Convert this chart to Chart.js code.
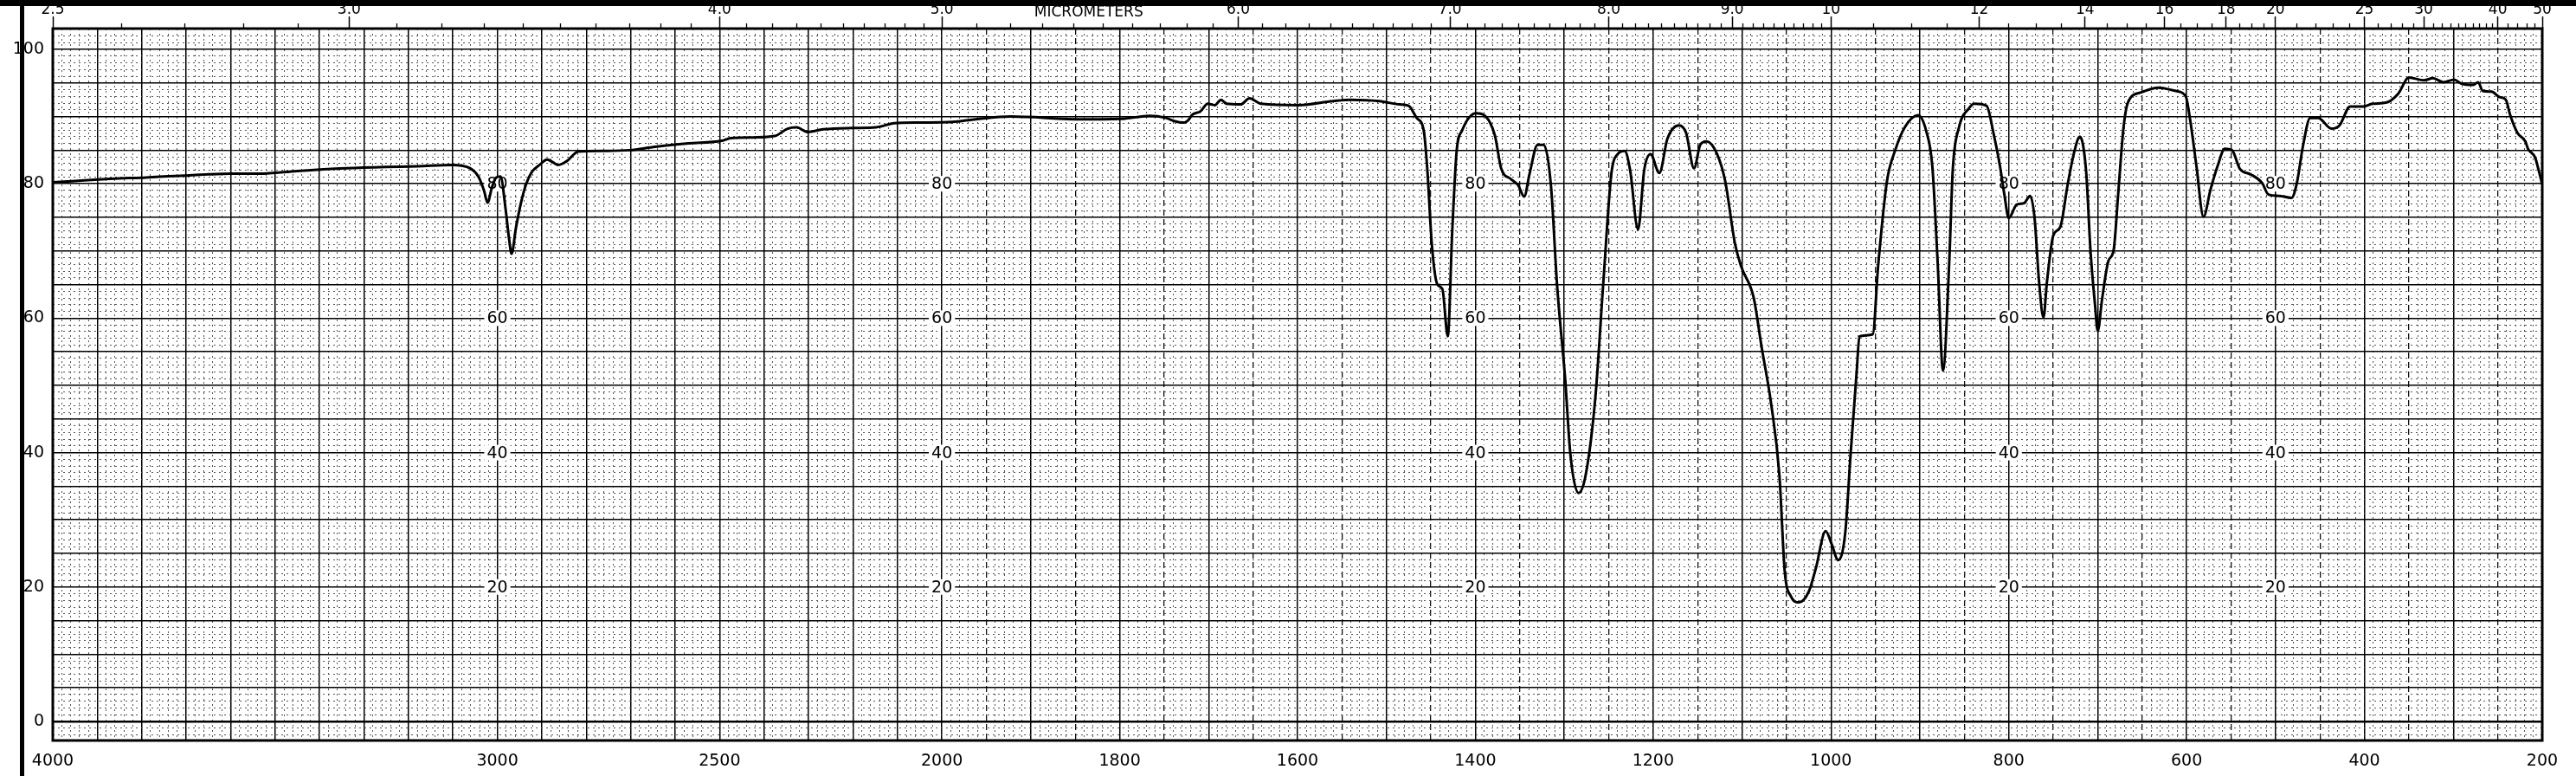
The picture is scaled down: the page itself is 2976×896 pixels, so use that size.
<!DOCTYPE html>
<html><head><meta charset="utf-8">
<script src="https://cdn.jsdelivr.net/npm/chart.js@4.4.1/dist/chart.umd.min.js"></script>
<style>html,body{margin:0;padding:0;background:#fff;overflow:hidden}canvas{display:block}</style>
</head><body>
<canvas id="c" width="2976" height="896"></canvas>
<script>
// ---- data (wavenumber cm-1, % transmittance) ----
const wavenumbers = [4000,3950,3905,3850,3801,3750,3704,3650,3599,3535,3450,3340,3250,3180,3102,3061,3042,3030,3022,3012,3003,2993,2981,2974,2968,2958,2946,2935,2923,2905,2888,2875,2863,2843,2818,2760,2703,2645,2570,2495,2475,2420,2376,2347,2327,2302,2267,2200,2148,2107,2050,1988,1962,1923,1842,1794,1767,1748,1738,1728,1722,1719,1709,1701,1693,1686,1680,1664,1654,1641,1599,1560,1540,1508,1485,1475,1466,1458,1454,1449,1443,1437,1431,1426,1421,1415,1399,1389,1378,1371,1360,1352,1345,1339,1330,1323,1315,1308,1299,1293,1284,1276,1265,1256,1247,1240,1232,1226,1217,1210,1203,1193,1184,1171,1163,1154,1147,1140,1128,1119,1108,1101,1087,1078,1067,1058,1052,1045,1036,1025,1017,1006,999,992,984,978,971,968,953,947,937,928,917,902,893,886,880,874,867,863,856,845,839,825,817,810,805,800,791,783,776,771,766,761,757,750,742,734,727,720,713,708,703,700,695,688,682,677,671,666,651,632,612,601,596,589,581,573,565,557,549,540,528,515,508,496,482,476,469,461,452,437,428,416,401,391,375,362,350,333,323,311,299,291,278,272,267,257,248,241,236,228,219,216,208,204,200];
const transmittance = [80.2,80.4,80.6,80.8,80.9,81.1,81.2,81.4,81.5,81.5,81.9,82.3,82.5,82.6,82.8,82.3,81.0,79.0,77.2,79.5,80.9,81.1,76.0,72.0,69.6,73.5,77.4,80.0,81.7,82.8,83.6,83.2,82.8,83.4,84.8,84.9,85.0,85.5,86.0,86.4,86.8,86.9,87.1,88.2,88.4,87.7,88.1,88.3,88.4,89.0,89.1,89.2,89.6,90.0,89.6,89.7,90.1,89.8,89.3,89.1,89.6,90.2,90.8,91.9,91.7,92.5,91.9,91.8,92.7,91.9,91.7,92.3,92.5,92.3,91.8,91.6,89.8,87.9,82.1,71.1,65.1,64.3,57.3,72.9,84.9,87.9,90.5,90.1,87.2,82.3,80.7,79.8,78.1,81.5,85.8,85.8,79.8,64.8,51.0,39.6,34.0,36.6,48.2,65.4,81.5,84.4,84.9,82.1,73.2,82.1,84.4,81.6,86.7,88.7,87.6,82.3,85.8,86.3,84.4,80.4,71.1,67.7,63.1,55.7,47.0,36.6,22.3,18.6,17.7,19.3,22.8,28.3,26.3,24.0,28.0,39.6,52.2,57.3,57.6,67.7,80.4,84.9,88.4,90.2,87.9,82.6,68.3,52.2,68.3,82.1,88.4,91.2,91.9,91.6,87.4,82.7,78.4,74.9,76.9,77.1,78.2,74.9,65.5,60.1,65.5,72.3,73.6,79.7,84.4,87.0,81.8,69.8,62.0,58.1,62.9,68.5,70.2,78.4,88.3,92.1,93.6,94.3,93.8,93.0,89.5,82.7,75.1,79.2,82.7,85.2,85.0,82.2,81.4,80.1,78.4,78.2,77.9,80.1,85.7,89.8,89.8,88.2,88.7,91.5,91.5,91.9,92.1,93.4,95.8,95.4,95.7,95.1,95.5,94.9,94.7,95.1,93.8,93.7,92.9,92.5,90.2,87.6,86.3,85.2,83.9,82.0,79.9];

// ---- ticks / labels ----
const bottomTickValues = [4000,3000,2500,2000,1800,1600,1400,1200,1000,800,600,400,200];
const bottomTickLabels = ['4000','3000','2500','2000','1800','1600','1400','1200','1000','800','600','400','200'];
const micronTickValues = [2.5,3,4,5,6,7,8,9,10,12,14,16,18,20,25,30,40,50];
const micronTickLabels = ['2.5','3.0','4.0','5.0','6.0','7.0','8.0','9.0','10','12','14','16','18','20','25','30','40','50'];
const micronAxisTitle = 'MICROMETERS';
const yTickValues = [0,20,40,60,80,100];
const innerLabelColumns = [3000,2000,1400,800,500];
const innerLabelValues = [80,60,40,20];

const WN_MAX = 4000, WN_MIN = 200, WN_BREAK = 2000;

// grid helper lists (layout only)
function range(a,b,s){const r=[];for(let v=a;v<=b+1e-9;v+=s)r.push(Math.round(v*100)/100);return r;}
const majorWn = range(200,4000,100);
const midWn = range(250,1950,100);
const minorWn = range(200,2000,10).filter(v=>v%50!==0).concat(range(2000,4000,20).filter(v=>v%100!==0));
const yMajor = range(0,100,5);
const yMinor = range(-2,103,1).filter(v=>v%5!==0);
const micronMinor = range(2.6,9.9,0.1).filter(v=>Math.abs(v-Math.round(v))>1e-6)
  .concat(range(10.5,19.5,0.5).filter(v=>![12,14,16,18].includes(v)))
  .concat(range(21,39,1).filter(v=>v!==25&&v!==30)).concat([42,44,46,48]);

// ---- custom wavenumber scale: 4000-2000 at half the scale of 2000-200 ----
class WaveScale extends Chart.LinearScale {
  _u(v){ return v >= WN_BREAK ? (WN_MAX - v)/2 : (WN_MAX - WN_BREAK)/2 + (WN_BREAK - v); }
  buildTicks(){ return []; }
  getPixelForValue(v){ return this.left + this.width * this._u(v) / this._u(WN_MIN); }
  getValueForPixel(p){
    const u = (p - this.left) / this.width * this._u(WN_MIN);
    const h = (WN_MAX - WN_BREAK)/2;
    return u <= h ? WN_MAX - 2*u : WN_BREAK - (u - h);
  }
}
WaveScale.id = 'wave';
WaveScale.defaults = {};
Chart.register(WaveScale);

const FONT = 'DejaVu Sans';
const setTicks = vals => s => { s.ticks = vals.map(v => ({value: v})); };
const zeroH = s => { s.height = 0; };
const zeroW = s => { s.width = 0; };

function gridAxis(vals, style){
  return Object.assign({
    type: 'wave', axis: 'x', position: 'bottom', min: WN_MIN, max: WN_MAX,
    afterBuildTicks: setTicks(vals), afterFit: zeroH,
    ticks: {display: false}, border: {display: false}
  }, style);
}

const decor = {
  id: 'decor',
  beforeDatasetsDraw(chart){
    const {ctx, chartArea: a, scales} = chart;
    ctx.save();
    ctx.font = '19px "' + FONT + '"';
    ctx.textAlign = 'center'; ctx.textBaseline = 'middle';
    for (const wn of innerLabelColumns) {
      for (const v of innerLabelValues) {
        const x = scales.x.getPixelForValue(wn), y = scales.y.getPixelForValue(v);
        const t = String(v), w = ctx.measureText(t).width;
        ctx.fillStyle = '#fff'; ctx.fillRect(x - w/2 - 3, y - 9, w + 6, 18);
        ctx.fillStyle = '#000'; ctx.fillText(t, x, y + 1);
      }
    }
    // micrometer axis title
    ctx.font = '17px "' + FONT + '"';
    ctx.textBaseline = 'alphabetic';
    ctx.fillText(micronAxisTitle, scales.xTop.getPixelForValue(10000/5.45), 19);
    // frame
    ctx.lineWidth = 3; ctx.strokeStyle = '#000';
    ctx.strokeRect(a.left, a.top, a.width, a.height);
    ctx.restore();
  },
  afterDraw(chart){
    const ctx = chart.ctx;
    ctx.save();
    ctx.fillStyle = '#000';
    ctx.fillRect(0, 0, chart.width, 7);
    ctx.fillRect(23, 0, 5, chart.height);
    ctx.restore();
  }
};

new Chart(document.getElementById('c'), {
  type: 'line',
  data: {
    datasets: [{
      data: wavenumbers.map((w, i) => ({x: w, y: transmittance[i]})),
      borderColor: '#000', borderWidth: 3, pointRadius: 0,
      cubicInterpolationMode: 'monotone', fill: false,
      xAxisID: 'x', yAxisID: 'y'
    }]
  },
  options: {
    responsive: false, devicePixelRatio: 1, animation: false,
    layout: {autoPadding: false, padding: {left: 0, right: 39, top: 0, bottom: 0}},
    plugins: {legend: {display: false}, tooltip: {enabled: false}},
    events: [],
    scales: {
      x: {
        type: 'wave', axis: 'x', position: 'bottom', min: WN_MIN, max: WN_MAX, weight: 1,
        afterBuildTicks: setTicks(bottomTickValues),
        afterFit: s => { s.height = 41; },
        grid: {display: false, drawTicks: false},
        border: {display: false},
        ticks: {autoSkip: false, maxRotation: 0, padding: 13, color: '#000',
                font: {family: FONT, size: 19},
                callback: (v, i) => bottomTickLabels[i]}
      },
      xMaj: gridAxis(majorWn, {grid: {color: '#000', lineWidth: 1.5, drawTicks: false}}),
      xMid: gridAxis(midWn, {grid: {color: '#111', lineWidth: 1.3, drawTicks: false}, border: {display: false, dash: [7, 4]}}),
      xMin: gridAxis(minorWn, {grid: {color: '#555', lineWidth: 1, drawTicks: false}, border: {display: false, dash: [2, 4]}}),
      xTop: {
        type: 'wave', axis: 'x', position: 'top', min: WN_MIN, max: WN_MAX, weight: 1,
        afterBuildTicks: setTicks(micronTickValues.map(m => 10000/m)),
        afterFit: s => { s.height = 33; },
        grid: {drawOnChartArea: false, drawTicks: true, tickLength: 14, tickWidth: 1.5, tickColor: '#000'},
        border: {display: false},
        ticks: {autoSkip: false, maxRotation: 0, padding: -3, color: '#000',
                font: {family: FONT, size: 17},
                callback: (v, i) => micronTickLabels[i]}
      },
      xTopMin: {
        type: 'wave', axis: 'x', position: 'top', min: WN_MIN, max: WN_MAX, weight: 0,
        afterBuildTicks: setTicks(micronMinor.map(m => 10000/m)),
        afterFit: zeroH,
        grid: {drawOnChartArea: false, drawTicks: true, tickLength: 6, tickWidth: 1.3, tickColor: '#000'},
        border: {display: false},
        ticks: {display: false}
      },
      y: {
        type: 'linear', axis: 'y', position: 'left', min: -2.84, max: 103.09, weight: 1,
        afterBuildTicks: setTicks(yMajor),
        afterFit: s => { s.width = 61; },
        grid: {color: '#000', lineWidth: c => (c.tick && (c.tick.value === 0)) ? 2.5 : 1.5, drawTicks: false},
        border: {display: false},
        ticks: {padding: 10, color: '#000', font: {family: FONT, size: 19},
                callback: v => yTickValues.includes(v) ? String(v) : ''}
      },
      yMin: {
        type: 'linear', axis: 'y', position: 'left', min: -2.84, max: 103.09, weight: 0,
        afterBuildTicks: setTicks(yMinor),
        afterFit: zeroW,
        grid: {color: '#555', lineWidth: 1, drawTicks: false},
        border: {display: false, dash: [2, 4]},
        ticks: {display: false}
      }
    }
  },
  plugins: [decor]
});
</script>
</body></html>
